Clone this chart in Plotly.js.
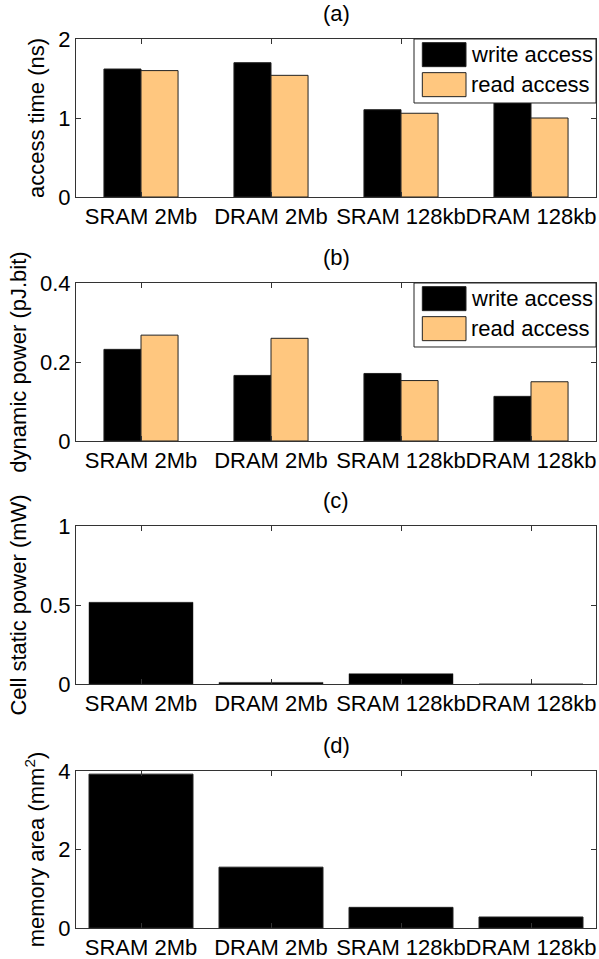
<!DOCTYPE html>
<html><head><meta charset="utf-8">
<script src="https://cdn.plot.ly/plotly-3.0.1.min.js"></script>
<style>html,body{margin:0;padding:0;background:#fff}</style>
</head><body><div id="chart" style="width:599px;height:959px"></div>
<script>
const categories = ["SRAM 2Mb", "DRAM 2Mb", "SRAM 128kb", "DRAM 128kb"];
const seriesNames = ["write access", "read access"];
const accessWrite = [1.62, 1.70, 1.105, 1.30];
const accessRead = [1.60, 1.54, 1.06, 1.00];
const dynWrite = [0.232, 0.166, 0.171, 0.113];
const dynRead = [0.268, 0.260, 0.153, 0.150];
const staticPower = [0.517, 0.010, 0.065, 0.0];
const memArea = [3.92, 1.55, 0.526, 0.28];
const panelTitles = ["(a)", "(b)", "(c)", "(d)"];
const yTitles = ["access time (ns)", "dynamic power (pJ.bit)", "Cell static power (mW)", "memory area (mm<sup>2</sup>)"];
const yTicks = [[0, 1, 2], [0, 0.2, 0.4], [0, 0.5, 1], [0, 2, 4]];
const yTickText = [["0", "1", "2"], ["0", "0.2", "0.4"], ["0", "0.5", "1"], ["0", "2", "4"]];

const writeColor = "#000000";
const readColor = "#FFC77F";
const edge = {color: "#222", width: 1};
const FONT = "Liberation Sans, Arial, Helvetica, sans-serif";
const H = 959;
const pxDomains = [[39, 197], [283, 441], [526, 684], [771, 928]];
const domains = pxDomains.map(d => [1 - d[1] / H, 1 - d[0] / H]);

const traces = [
  {type: "bar", x: categories, y: accessWrite, name: seriesNames[0], marker: {color: writeColor, line: edge}, xaxis: "x", yaxis: "y"},
  {type: "bar", x: categories, y: accessRead, name: seriesNames[1], marker: {color: readColor, line: edge}, xaxis: "x", yaxis: "y"},
  {type: "bar", x: categories, y: dynWrite, name: seriesNames[0], marker: {color: writeColor, line: edge}, xaxis: "x2", yaxis: "y2"},
  {type: "bar", x: categories, y: dynRead, name: seriesNames[1], marker: {color: readColor, line: edge}, xaxis: "x2", yaxis: "y2"},
  {type: "bar", x: categories, y: staticPower, width: 0.8, marker: {color: writeColor, line: {color: "#222", width: 0.5}}, xaxis: "x3", yaxis: "y3"},
  {type: "bar", x: categories, y: memArea, width: 0.8, marker: {color: writeColor, line: edge}, xaxis: "x4", yaxis: "y4"}
];

const axisLine = "#333";
function xax(anchor) {
  return {type: "category", anchor: anchor, range: [-0.5, 3.5], ticks: "inside", ticklen: 5, tickcolor: axisLine,
    mirror: "ticks", showline: true, linecolor: axisLine, linewidth: 1, tickangle: 0,
    tickfont: {size: 22, color: "#000", family: FONT}, showgrid: false, zeroline: false, fixedrange: true};
}
function yax(i, anchor) {
  return {domain: domains[i], anchor: anchor, range: [0, yTicks[i][2]], tickvals: yTicks[i], ticktext: yTickText[i],
    ticks: "inside", ticklen: 5, tickcolor: axisLine, mirror: "ticks", showline: true, linecolor: axisLine, linewidth: 1,
    tickfont: {size: 22, color: "#000", family: FONT}, showgrid: false, zeroline: false, fixedrange: true,
    title: {text: yTitles[i], standoff: 7, font: {size: 22, color: "#000", family: FONT}}};
}

const shapes = [];
const annotations = [];
const ids = ["", "2", "3", "4"];
for (let i = 0; i < 4; i++) {
  annotations.push({text: panelTitles[i], xref: "x" + ids[i] + " domain", yref: "y" + ids[i] + " domain", x: 0.5, y: 1,
    xanchor: "center", yanchor: "bottom", yshift: 11, showarrow: false, font: {size: 22, color: "#000", family: FONT}});
}
// legends for panels a and b
for (let i = 0; i < 2; i++) {
  const xr = "x" + ids[i] + " domain", yr = "y" + ids[i] + " domain";
  shapes.push({type: "rect", xref: xr, yref: yr, x0: 0.65, x1: 1.0, y0: 0.595, y1: 1.0, fillcolor: "#fff", line: {color: "#222", width: 1}, layer: "above"});
  shapes.push({type: "rect", xref: xr, yref: yr, x0: 0.666, x1: 0.75, y0: 0.825, y1: 0.977, fillcolor: writeColor, line: {color: "#222", width: 1}, layer: "above"});
  shapes.push({type: "rect", xref: xr, yref: yr, x0: 0.666, x1: 0.75, y0: 0.635, y1: 0.787, fillcolor: readColor, line: {color: "#222", width: 1}, layer: "above"});
  annotations.push({text: seriesNames[0], xref: xr, yref: yr, x: 0.755, y: 0.901, xanchor: "left", yanchor: "middle", showarrow: false, font: {size: 22, color: "#000", family: FONT}});
  annotations.push({text: seriesNames[1], xref: xr, yref: yr, x: 0.755, y: 0.711, xanchor: "left", yanchor: "middle", showarrow: false, font: {size: 22, color: "#000", family: FONT}});
}

const layout = {
  width: 599, height: 959, margin: {l: 76, r: 3, t: 0, b: 0},
  paper_bgcolor: "#fff", plot_bgcolor: "#fff", showlegend: false,
  barmode: "group", bargap: 0.43, bargroupgap: 0,
  font: {family: FONT, size: 22, color: "#000"},
  xaxis: xax("y"), xaxis2: xax("y2"), xaxis3: xax("y3"), xaxis4: xax("y4"),
  yaxis: yax(0, "x"), yaxis2: yax(1, "x2"), yaxis3: yax(2, "x3"), yaxis4: yax(3, "x4"),
  shapes: shapes, annotations: annotations
};
Plotly.newPlot("chart", traces, layout, {displayModeBar: false, staticPlot: true});
</script></body></html>
